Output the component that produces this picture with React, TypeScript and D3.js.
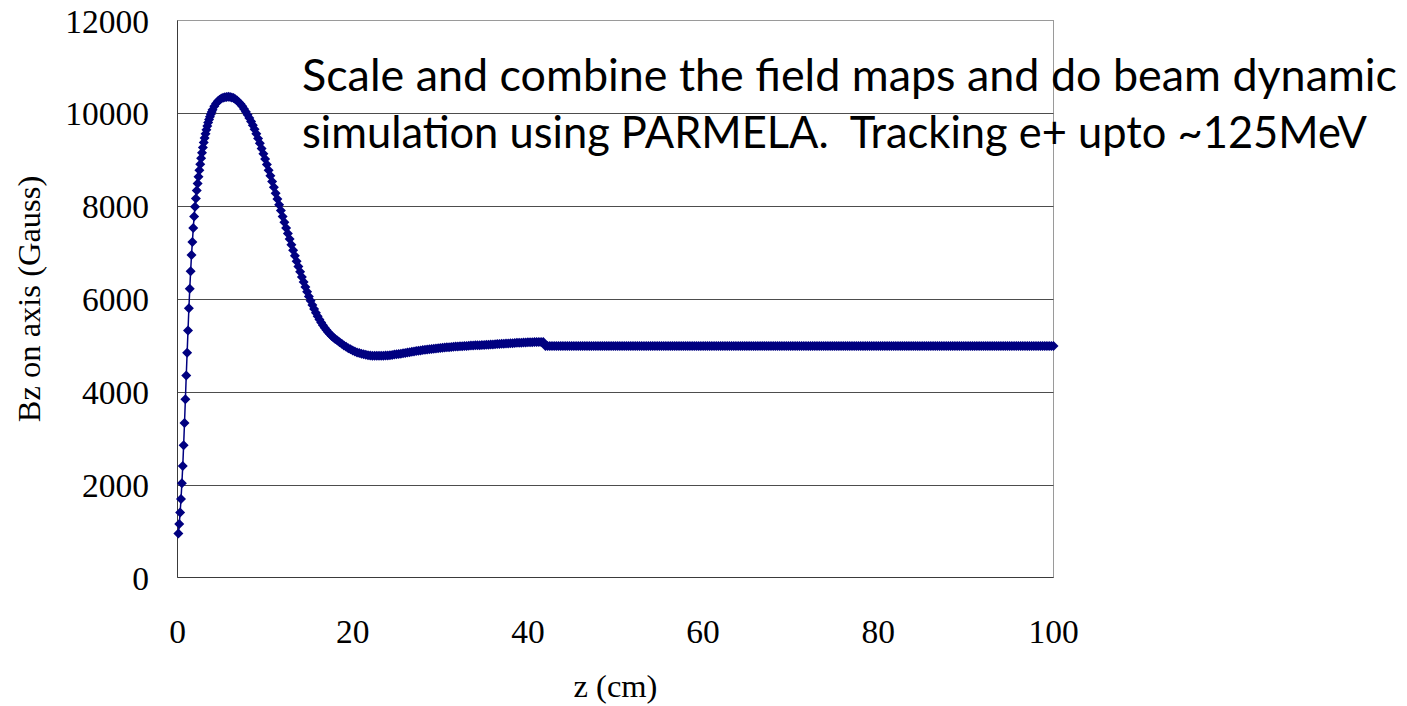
import React from 'react';
import * as d3 from 'd3';

const W = 1407;
const H = 706;

// Axis ticks
const xTicks = [0, 20, 40, 60, 80, 100];
const yTicks = [0, 2000, 4000, 6000, 8000, 10000, 12000];

// Sampling grid of each measured segment: start z (cm) and step (cm)
const segStart = [0.1, 4.2, 18.25, 42.0];
const segStep = [0.1, 0.2, 0.25, 0.25];

// Bz on axis (Gauss), segment 1: z = 0.1 .. 4.0
const bzSeg1 = [
  950, 1150, 1400, 1690, 2030, 2400, 2850, 3330, 3840, 4350,
  4840, 5320, 5800, 6220, 6600, 6950, 7230, 7530, 7780, 7990,
  8165, 8335, 8490, 8635, 8775, 8905, 9030, 9150, 9265, 9370,
  9470, 9560, 9645, 9725, 9800, 9865, 9925, 9980, 10030, 10075,
];

// segment 2: z = 4.2 .. 18.0
const bzSeg2 = [
  10150, 10210, 10260, 10295, 10320, 10338, 10348, 10353, 10355,
  10352, 10343, 10328, 10305, 10275, 10240, 10200, 10150, 10095, 10035,
  9970, 9900, 9825, 9745, 9655, 9560, 9460, 9355, 9245, 9130,
  9015, 8895, 8775, 8655, 8530, 8405, 8280, 8155, 8030, 7905,
  7780, 7655, 7530, 7410, 7290, 7170, 7050, 6930, 6815, 6700,
  6585, 6475, 6365, 6260, 6155, 6055, 5960, 5870, 5785, 5705,
  5630, 5560, 5495, 5435, 5380, 5330, 5285, 5245, 5205, 5170,
  5140,
];

// segment 3: z = 18.25 .. 41.75
const bzSeg3 = [
  5105, 5070, 5035, 5000, 4970, 4940, 4915, 4890, 4870, 4850,
  4835, 4820, 4808, 4798, 4790, 4784, 4780, 4777, 4775, 4775,
  4776, 4778, 4781,
  4785, 4790, 4796, 4802, 4809, 4816, 4823, 4831, 4839, 4847,
  4855, 4863, 4871, 4878, 4885, 4892, 4899, 4905, 4911, 4917,
  4923, 4929, 4934, 4939, 4944, 4949, 4954, 4958, 4962, 4966,
  4970, 4974, 4978, 4981, 4984, 4987, 4990, 4993, 4996, 4999,
  5002, 5004, 5006, 5008, 5010, 5013, 5016, 5019, 5022, 5025,
  5028, 5031, 5034, 5037, 5040, 5043, 5046, 5049, 5052, 5055,
  5058, 5060, 5062, 5064, 5066, 5068, 5070, 5071, 5072, 5073,
  5074, 5075,
];

// segment 4: z = 42.0 .. 100.0 (uniform solenoid field)
const bzSeg4 = [
  4990, 4990, 4990, 4990, 4990, 4990, 4990, 4990, 4990, 4990,
  4990, 4990, 4990, 4990, 4990, 4990, 4990, 4990, 4990, 4990,
  4990, 4990, 4990, 4990, 4990, 4990, 4990, 4990, 4990, 4990,
  4990, 4990, 4990, 4990, 4990, 4990, 4990, 4990, 4990, 4990,
  4990, 4990, 4990, 4990, 4990, 4990, 4990, 4990, 4990, 4990,
  4990, 4990, 4990, 4990, 4990, 4990, 4990, 4990, 4990, 4990,
  4990, 4990, 4990, 4990, 4990, 4990, 4990, 4990, 4990, 4990,
  4990, 4990, 4990, 4990, 4990, 4990, 4990, 4990, 4990, 4990,
  4990, 4990, 4990, 4990, 4990, 4990, 4990, 4990, 4990, 4990,
  4990, 4990, 4990, 4990, 4990, 4990, 4990, 4990, 4990, 4990,
  4990, 4990, 4990, 4990, 4990, 4990, 4990, 4990, 4990, 4990,
  4990, 4990, 4990, 4990, 4990, 4990, 4990, 4990, 4990, 4990,
  4990, 4990, 4990, 4990, 4990, 4990, 4990, 4990, 4990, 4990,
  4990, 4990, 4990, 4990, 4990, 4990, 4990, 4990, 4990, 4990,
  4990, 4990, 4990, 4990, 4990, 4990, 4990, 4990, 4990, 4990,
  4990, 4990, 4990, 4990, 4990, 4990, 4990, 4990, 4990, 4990,
  4990, 4990, 4990, 4990, 4990, 4990, 4990, 4990, 4990, 4990,
  4990, 4990, 4990, 4990, 4990, 4990, 4990, 4990, 4990, 4990,
  4990, 4990, 4990, 4990, 4990, 4990, 4990, 4990, 4990, 4990,
  4990, 4990, 4990, 4990, 4990, 4990, 4990, 4990, 4990, 4990,
  4990, 4990, 4990, 4990, 4990, 4990, 4990, 4990, 4990, 4990,
  4990, 4990, 4990, 4990, 4990, 4990, 4990, 4990, 4990, 4990,
  4990, 4990, 4990, 4990, 4990, 4990, 4990, 4990, 4990, 4990,
  4990, 4990, 4990,
];

const xTitle = 'z (cm)';
const yTitle = 'Bz on axis (Gauss)';
const noteLines = [
  'Scale and combine the field maps and do beam dynamic',
  'simulation using PARMELA.  Tracking e+ upto ~125MeV',
];

const segments = [bzSeg1, bzSeg2, bzSeg3, bzSeg4];
const points: { z: number; bz: number }[] = [];
segments.forEach((vals, s) => {
  vals.forEach((bz, i) => {
    points.push({ z: +(segStart[s] + i * segStep[s]).toFixed(3), bz });
  });
});

export default function App() {
  const left = 177.5;
  const right = 1053.5;
  const top = 20.5;
  const bottom = 577.5;
  const x = d3.scaleLinear().domain([0, 100]).range([left, right]);
  const y = d3.scaleLinear().domain([0, 12000]).range([bottom, top]);

  const line = d3
    .line<{ z: number; bz: number }>()
    .x((d) => x(d.z))
    .y((d) => y(d.bz));

  const diamond = d3.symbol().type(d3.symbolSquare).size(50)() as string;
  const serif = '"Liberation Serif", "Times New Roman", serif';
  const navy = '#000080';

  return (
    <svg
      width={W}
      height={H}
      style={{ position: 'absolute', left: 0, top: 0, background: '#ffffff' }}
    >
      <rect x={0} y={0} width={W} height={H} fill="#ffffff" />
      {/* plot area border */}
      <rect
        x={left}
        y={top}
        width={right - left}
        height={bottom - top}
        fill="none"
        stroke="#9a9a9a"
        strokeWidth={1}
      />
      {/* gridlines */}
      {yTicks
        .filter((t) => t > 0 && t < 12000)
        .map((t) => (
          <line
            key={'g' + t}
            x1={left}
            x2={right}
            y1={Math.round(y(t)) + 0.5}
            y2={Math.round(y(t)) + 0.5}
            stroke="#4d4d4d"
            strokeWidth={1}
          />
        ))}
      {/* axes */}
      <line x1={left} x2={left} y1={top} y2={bottom} stroke="#3a3a3a" strokeWidth={1} />
      <line x1={left} x2={right} y1={bottom} y2={bottom} stroke="#3a3a3a" strokeWidth={1} />

      {/* y tick labels */}
      {yTicks.map((t) => (
        <text
          key={'yt' + t}
          x={149}
          y={y(t) + 12}
          textAnchor="end"
          fontFamily={serif}
          fontSize={33.5}
          fill="#000"
        >
          {t}
        </text>
      ))}
      {/* x tick labels */}
      {xTicks.map((t) => (
        <text
          key={'xt' + t}
          x={x(t)}
          y={643}
          textAnchor="middle"
          fontFamily={serif}
          fontSize={33.5}
          fill="#000"
        >
          {t}
        </text>
      ))}
      {/* axis titles */}
      <text
        x={(left + right) / 2}
        y={697}
        textAnchor="middle"
        fontFamily={serif}
        fontSize={32.5}
        fill="#000"
      >
        {xTitle}
      </text>
      <text
        transform={`translate(40,${(top + bottom) / 2}) rotate(-90)`}
        textAnchor="middle"
        fontFamily={serif}
        fontSize={32.5}
        fill="#000"
      >
        {yTitle}
      </text>

      {/* series */}
      <path d={line(points) || ''} fill="none" stroke={navy} strokeWidth={1.5} />
      <g fill={navy}>
        {points.map((p, i) => (
          <path
            key={i}
            d={diamond}
            transform={`translate(${x(p.z)},${y(p.bz)}) rotate(45)`}
          />
        ))}
      </g>

      {/* annotation */}
      {noteLines.map((s, i) => (
        <text
          key={'n' + i}
          x={302}
          y={91 + i * 57}
          fontFamily='Lato, "Open Sans", sans-serif'
          fontSize={44}
          fill="#000"
          textLength={i === 0 ? 1095 : 1065}
          lengthAdjust="spacingAndGlyphs"
          style={{ whiteSpace: 'pre' }}
        >
          {s}
        </text>
      ))}
    </svg>
  );
}
